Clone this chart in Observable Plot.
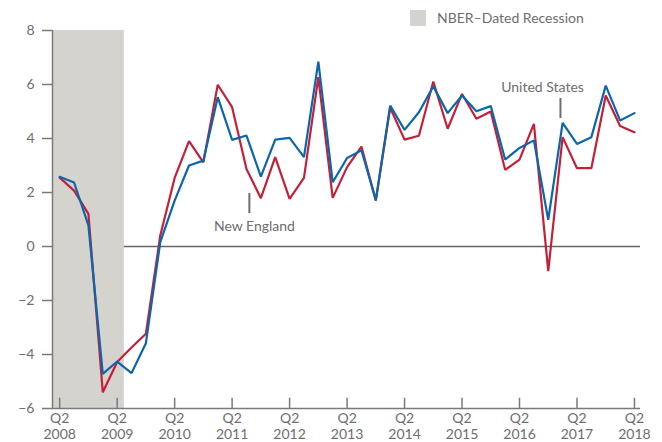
<!DOCTYPE html>
<html><head><meta charset="utf-8">
<script src="https://cdn.jsdelivr.net/npm/d3@7"></script>
<script src="https://cdn.jsdelivr.net/npm/@observablehq/plot@0.6"></script>
<style>
body{margin:0;background:#fff;}
#wrap{position:relative;width:662px;height:442px;font-family:Lato,"Open Sans",sans-serif;}
#wrap svg{position:absolute;left:0;top:0;}
#legend{position:absolute;left:410px;top:9px;display:flex;align-items:center;font-size:14px;color:#6d6e70;z-index:2;}
#legend .sw{display:inline-block;width:16px;height:16px;background:#d4d3ce;margin-right:11px;}
</style></head><body>
<div id="wrap"><div id="legend"><span class="sw"></span><span id="legtext"></span></div></div>
<script>
// Quarters (index 0 = 2008 Q2 ... 40 = 2018 Q2)
const quarters = [
  "2008Q2","2008Q3","2008Q4","2009Q1","2009Q2","2009Q3","2009Q4","2010Q1","2010Q2","2010Q3","2010Q4",
  "2011Q1","2011Q2","2011Q3","2011Q4","2012Q1","2012Q2","2012Q3","2012Q4","2013Q1","2013Q2","2013Q3",
  "2013Q4","2014Q1","2014Q2","2014Q3","2014Q4","2015Q1","2015Q2","2015Q3","2015Q4","2016Q1","2016Q2",
  "2016Q3","2016Q4","2017Q1","2017Q2","2017Q3","2017Q4","2018Q1","2018Q2"
];
const newEngland = [2.55,2.07,1.21,-5.40,-4.28,-3.74,-3.23,0.41,2.54,3.90,3.12,5.99,5.16,2.87,1.79,3.31,1.76,2.54,6.27,1.80,2.94,3.70,1.70,5.14,3.96,4.10,6.11,4.36,5.65,4.73,5.00,2.84,3.22,4.54,-0.91,4.05,2.90,2.90,5.59,4.46,4.23];
const unitedStates = [2.58,2.37,0.78,-4.72,-4.26,-4.69,-3.58,0.16,1.70,3.00,3.18,5.53,3.95,4.11,2.59,3.96,4.02,3.31,6.85,2.38,3.28,3.56,1.72,5.22,4.32,4.97,5.93,4.94,5.59,5.01,5.20,3.22,3.65,3.93,0.99,4.58,3.80,4.05,5.96,4.67,4.94];
const xTickQuarters = ["2008Q2","2009Q2","2010Q2","2011Q2","2012Q2","2013Q2","2014Q2","2015Q2","2016Q2","2017Q2","2018Q2"];
const xTickLabels = ["Q2\n2008","Q2\n2009","Q2\n2010","Q2\n2011","Q2\n2012","Q2\n2013","Q2\n2014","Q2\n2015","Q2\n2016","Q2\n2017","Q2\n2018"];
const yTicks = [-6,-4,-2,0,2,4,6,8];
const recessionStart = "2007Q4";
const recessionEnd = "2009Q2";
const legendLabel = "NBER–Dated Recession";
const seriesNames = ["New England","United States"];
const seriesColors = ["#c61f38","#0a67ad"];
// annotation label placement: quarter index, line top/bottom value, text value
const annotations = [
  {label:"New England", lineQ:13.2, lineTop:1.96, lineBottom:1.22, textQ:13.55, textV:0.74},
  {label:"United States", lineQ:34.85, lineTop:5.48, lineBottom:4.74, textQ:33.6, textV:5.9}
];

document.getElementById("legtext").textContent = legendLabel;

const qIndex = q => {
  const y = +q.slice(0,4), k = +q.slice(5);
  return (y - 2008) * 4 + (k - 2);
};
const ne = newEngland.map((v,i) => ({i, v, q: quarters[i]}));
const us = unitedStates.map((v,i) => ({i, v, q: quarters[i]}));
const xTickPos = xTickQuarters.map(qIndex);
const recessions = [{x1: qIndex(recessionStart) - 0.5, x2: qIndex(recessionEnd) + 0.5}];

const axisColor = "#7a7a7a";
const textColor = "#6d6e70";

const chart = Plot.plot({
  width: 662, height: 442,
  marginLeft: 52, marginRight: 22, marginTop: 30, marginBottom: 34,
  x: {domain: [-0.5, 40.42], axis: null},
  y: {domain: [-6, 8], axis: null},
  style: {fontFamily: "Lato, 'Open Sans', sans-serif", fontSize: "14px", color: textColor, background: "transparent"},
  marks: [
    Plot.ruleY([0], {stroke: "#666", strokeWidth: 1.6}),
    Plot.rect(recessions, {x1: "x1", x2: "x2", y1: -6, y2: 8, fill: "#d4d3ce", clip: true}),
    Plot.ruleX([-0.5], {y1: -6, y2: 8, stroke: axisColor, strokeWidth: 1.5}),
    Plot.ruleY([-6], {stroke: axisColor, strokeWidth: 1.5}),
    Plot.axisY(yTicks, {tickSize: 10, tickPadding: 8, stroke: axisColor, strokeWidth: 1.5, fill: textColor, fontSize: 14,
      tickFormat: d => d < 0 ? "\u2212" + (-d) : String(d)}),
    Plot.ruleX(xTickPos, {y1: -6, y2: -5.62, stroke: axisColor, strokeWidth: 1.5}),
    Plot.axisX(xTickPos, {tickSize: 0, tickPadding: 3, fill: textColor, fontSize: 14, lineHeight: 1.15,
      tickFormat: d => xTickLabels[xTickPos.indexOf(d)]}),
    Plot.line(ne, {x: "i", y: "v", stroke: seriesColors[0], strokeWidth: 2.2, strokeLinejoin: "miter"}),
    Plot.line(us, {x: "i", y: "v", stroke: seriesColors[1], strokeWidth: 2.2, strokeLinejoin: "miter"}),
    Plot.ruleX(annotations, {x: "lineQ", y1: "lineBottom", y2: "lineTop", stroke: textColor, strokeWidth: 2}),
    Plot.text(annotations, {x: "textQ", y: "textV", text: "label", fill: textColor, fontSize: 14})
  ]
});
document.getElementById("wrap").appendChild(chart);
</script>
</body></html>
